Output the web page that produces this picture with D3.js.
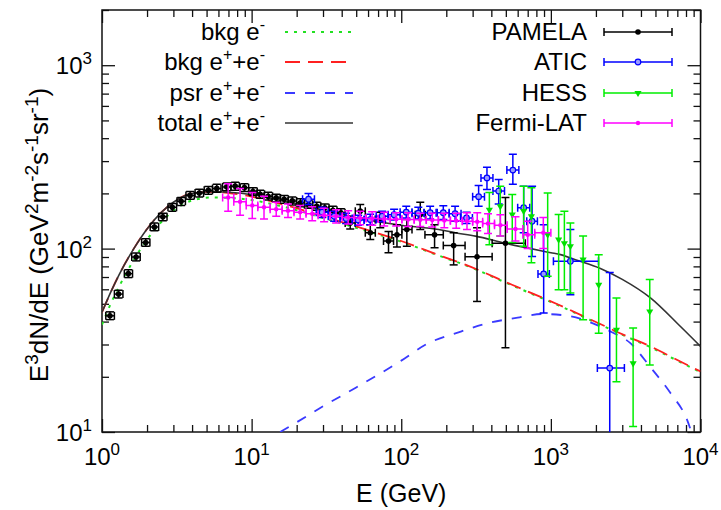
<!DOCTYPE html>
<html><head><meta charset="utf-8">
<script src="https://cdn.jsdelivr.net/npm/d3@7"></script>
<style>body{margin:0;background:#fff} text{font-family:"Liberation Sans",Arial,sans-serif;fill:#000}</style>
</head><body><svg id="c" width="721" height="510"></svg>
<script>
// ---------- tick definitions ----------
const xMajorTicks = [1, 10, 100, 1000, 10000];
const xMajorExp = ["0", "1", "2", "3", "4"];
const yMajorTicks = [10, 100, 1000];
const yMajorExp = ["1", "2", "3"];

// ---------- model curves ----------
const bkgEmE = [1, 1.15, 1.3, 1.62, 2, 2.5, 3, 3.6, 4.5, 5.5, 7, 10, 15, 20, 30, 53, 100, 200, 255, 550, 1127, 2000, 3234, 4630, 7000, 10000];
const bkgEmV = [38.5, 50.5, 62, 86, 112, 140, 161, 177, 187, 190, 189, 184, 172, 162, 147, 128, 109, 88.5, 82.5, 63, 49, 39.5, 33, 29, 24.5, 21.2];
const bkgEpmE = [1, 1.15, 1.3, 1.62, 2, 2.5, 3, 3.6, 4.5, 5.5, 7, 10, 15, 20, 30, 53, 100, 200, 255, 550, 1127, 2000, 3234, 4630, 7000, 10000];
const bkgEpmV = [45, 58.4, 72, 99, 128, 158, 179, 195, 203, 204, 201, 192, 177, 166, 150, 130, 110, 89, 83, 63.5, 49.4, 39.8, 33.2, 29.3, 24.7, 21.4];
const psrE = [15.5, 20, 30, 50, 100, 145, 250, 394, 600, 870, 1300, 2000, 2500, 3400, 4600, 6300, 8150, 8700];
const psrV = [10, 11.3, 13.8, 17.5, 24.5, 29.9, 35.3, 39.5, 42, 44, 43, 38.5, 35.3, 30.5, 22.7, 16.3, 11.6, 10];
const totE = [1, 1.15, 1.3, 1.62, 2, 2.5, 3, 3.6, 4.5, 5.5, 7, 10, 15, 20, 30, 53, 100, 178, 230, 313, 496, 1000, 1160, 1459, 2143, 3000, 4630, 7350, 10000];
const totV = [45, 58.4, 72, 99, 128, 158, 179, 195, 203, 205, 203, 197, 184, 175, 162, 146, 134, 127, 122, 117, 107, 95, 92.7, 87, 78, 68, 53.9, 37.6, 29.3];

// ---------- PAMELA ----------
const pamE   = [1.13,1.29,1.50,1.69,1.96,2.24,2.55,2.95,3.38,3.88,4.47,5.14,5.85,6.82,7.76,8.95,
                10.2,11.4,12.9,14.6,16.5,18.7,21.2,24.0,27.2,30.8,34.9,39.5,
                45.6,53.2,62.1,72.4,82.2,93.6,109,134,167,224,321,497];
const pamV   = [43,56.5,73,90,108,131,149,168,181,195,201,208,213,217,219,215,
                205,198,193,189,186,182,178,174,170,167,162,157,
                138,160,122,144,110,119,127,153,119,104,90.3,107];
const pamElo = [1.06,1.21,1.41,1.58,1.84,2.10,2.39,2.76,3.17,3.64,4.19,4.82,5.48,6.39,7.27,8.39,
                9.56,10.7,12.1,13.7,15.5,17.5,19.9,22.5,25.5,28.9,32.7,37.0,
                42.2,49.3,57.5,67.0,76.1,86.7,101,124,144,191,267,405];
const pamEhi = [1.21,1.38,1.60,1.80,2.09,2.39,2.72,3.15,3.61,4.14,4.77,5.48,6.24,7.28,8.28,9.55,
                10.9,12.2,13.8,15.6,17.6,20.0,22.6,25.6,29.0,32.9,37.2,42.1,
                49.2,57.5,67.1,78.2,88.8,101,118,145,191,267,405,675];
const pamVlo = [41,53.8,69.5,85.7,103,125,142,160,172,186,191,198,203,207,208,205,
                195,188,184,180,177,173,169,166,162,159,154,149,
                128,147,112,130,95,102,103,127,101,81.5,51.5,28.8];
const pamVhi = [45.2,59.3,76.7,94.5,113,138,156,176,190,205,211,218,224,228,230,226,
                215,208,203,198,195,191,187,183,179,175,170,165,
                150,174,135,158,124,135,144,179,135,122,130,190];

// ---------- ATIC ----------
const aticE   = [24.0,29.6,35.6,42.8,51.5,62,74.5,89.6,108,130,156,191,229,273,329,374,448,557,658,749,895,1350,2474];
const aticV   = [186,158,150,146,143,144,150,153,158,156,157,157,155,147,192,243,206,268,167,141,72.8,85.3,22.3];
const aticVlo = [174,148,141,137,134,135,140,143,147,145,145,144,141,137,170,210,175,224,122,90.5,44.6,56.1,5];
const aticVhi = [200,168,160,156,152,154,160,164,170,168,170,171,170,158,221,278,238,327,219,219,135,127,74];
const aticElo = [21.9,27.0,32.5,39.0,47.0,56.5,68,81.7,98.3,118,142,174,209,249,300,341,410,508,600,690,820,1040,2045];
const aticEhi = [26.3,32.5,39.0,47.0,56.5,68,81.7,98.3,118,142,171,209,251,299,360,410,490,611,722,813,977,2080,3100];

// ---------- HESS ----------
const hessE   = [388,459,552,658,741,952,1127,1231,1350,1642,2088,2744,3545,4580];
const hessV   = [163,170,153.5,160,150,119,112,107,103,87.1,63.5,36.1,23.7,45.4];
const hessVlo = [105,117,108,103,83.6,70.6,59.7,59.7,57.3,40.9,34.6,18.8,10.7,23.2];
const hessVhi = [202,219,197,219,215,201,153.5,160,138,117,92.7,53.8,36.9,67.8];

// ---------- Fermi-LAT ----------
const fermiE   = [6.97,8.37,10.1,12.1,14.6,17.5,21.1,25.4,30.5,36.7,44.2,53.1,63.9,76.9,92.5,111,134,161,194,233,275,322,380,460,580,700,890];
const fermiV   = [190,180,172,168,164,161,158,155,152,150,148,147,146,145,144.5,144,143.5,143,142.5,142,141,140,137,134,128,119,122];
const fermiVlo = [160,152,146,145,150,148,145,142,140,138,136,135,134,133,133,132,132,131,130,129,127,125,121,117,110,100,100];
const fermiVhi = [226,213,202,193,179,175,172,169,166,163,161,160,159,158,157,157,156,156,156,156,157,157,155,153,149,141,148];
const fermiElo = [6.4,7.6,9.2,11.0,13.3,16.0,19.2,23.1,27.8,33.5,40.3,48.5,58.3,70.2,84.4,101,122,147,177,213,256,300,350,420,510,650,780];
const fermiEhi = [7.6,9.2,11.0,13.3,16.0,19.2,23.1,27.8,33.5,40.3,48.5,58.3,70.2,84.4,101,122,147,177,213,256,300,350,420,510,650,780,1000];

// ---------- legend labels ----------
const legendCurveLabels = [
  [["bkg e",0],["-",1]],
  [["bkg e",0],["+",1],["+e",0],["-",1]],
  [["psr e",0],["+",1],["+e",0],["-",1]],
  [["total e",0],["+",1],["+e",0],["-",1]]
];
const legendDataLabels = ["PAMELA", "ATIC", "HESS", "Fermi-LAT"];

// ================= drawing =================
const M = {l:102, r:700.5, t:10, b:432};
const svg = d3.select("#c");
const x = d3.scaleLog().domain([1, 1e4]).range([M.l, M.r]);
const y = d3.scaleLog().domain([10, 2000]).range([M.b, M.t]);

svg.append("defs").append("clipPath").attr("id","clip")
  .append("rect").attr("x",M.l).attr("y",M.t).attr("width",M.r-M.l).attr("height",M.b-M.t);

function rich(t, parts, supSize, shift){
  parts.forEach(([s,sup],i)=>{
    const prev = i>0 ? parts[i-1][1] : 0;
    let d = 0;
    if (sup && !prev) d = -shift; else if (!sup && prev) d = shift;
    const ts = t.append("tspan").attr("dy", d).text(s);
    if (sup) ts.attr("font-size", supSize);
  });
}

const isPow = v => Math.abs(Math.log10(v) - Math.round(Math.log10(v))) < 1e-9;
const xMinor = x.ticks().filter(v => !isPow(v));
const yMinor = y.ticks().filter(v => !isPow(v));

const axStroke = "#111";
function styleAxis(g){ g.select(".domain").remove(); g.selectAll("line").attr("stroke", axStroke).attr("stroke-width",1.3); g.selectAll("text").remove(); }
svg.append("g").attr("transform",`translate(0,${M.b})`).call(d3.axisBottom(x).tickValues(xMajorTicks).tickSize(-13)).call(styleAxis);
svg.append("g").attr("transform",`translate(0,${M.b})`).call(d3.axisBottom(x).tickValues(xMinor).tickSize(-7)).call(styleAxis);
svg.append("g").attr("transform",`translate(0,${M.t})`).call(d3.axisTop(x).tickValues(xMajorTicks).tickSize(-13)).call(styleAxis);
svg.append("g").attr("transform",`translate(0,${M.t})`).call(d3.axisTop(x).tickValues(xMinor).tickSize(-7)).call(styleAxis);
svg.append("g").attr("transform",`translate(${M.l},0)`).call(d3.axisLeft(y).tickValues(yMajorTicks).tickSize(-13)).call(styleAxis);
svg.append("g").attr("transform",`translate(${M.l},0)`).call(d3.axisLeft(y).tickValues(yMinor).tickSize(-7)).call(styleAxis);
svg.append("g").attr("transform",`translate(${M.r},0)`).call(d3.axisRight(y).tickValues(yMajorTicks).tickSize(-13)).call(styleAxis);
svg.append("g").attr("transform",`translate(${M.r},0)`).call(d3.axisRight(y).tickValues(yMinor).tickSize(-7)).call(styleAxis);

// tick labels
xMajorTicks.forEach((v,i)=>{
  const t = svg.append("text").attr("x", x(v)).attr("y", M.b+33).attr("text-anchor","middle").attr("font-size",24);
  rich(t, [["10",0],[xMajorExp[i],1]], 17, 10);
});
yMajorTicks.forEach((v,i)=>{
  const t = svg.append("text").attr("x", M.l-10).attr("y", y(v)+9).attr("text-anchor","end").attr("font-size",24);
  rich(t, [["10",0],[yMajorExp[i],1]], 17, 10);
});

// axis titles
svg.append("text").attr("x", (M.l+M.r)/2).attr("y", 502).attr("text-anchor","middle").attr("font-size",25).text("E (GeV)");
{
  const t = svg.append("text").attr("transform",`translate(48,${235}) rotate(-90)`).attr("text-anchor","middle").attr("font-size",26);
  rich(t, [["E",0],["3",1],["dN/dE (GeV",0],["2",1],["m",0],["-2",1],["s",0],["-1",1],["sr",0],["-1",1],[")",0]], 19, 10);
}

// frame
svg.append("rect").attr("x",M.l).attr("y",M.t).attr("width",M.r-M.l).attr("height",M.b-M.t)
  .attr("fill","none").attr("stroke",axStroke).attr("stroke-width",1.5);

const plot = svg.append("g").attr("clip-path","url(#clip)");

// curves
const curveStyles = [
  {E:bkgEmE, V:bkgEmV, color:"#22e022", dash:"3,6", w:2},
  {E:bkgEpmE, V:bkgEpmV, color:"#ff2020", dash:"15,8", w:1.8},
  {E:psrE, V:psrV, color:"#3a3aff", dash:"10,10", w:1.8},
  {E:totE, V:totV, color:"#333", dash:null, w:1.6}
];
const line = d3.line().x(d=>x(d[0])).y(d=>y(d[1])).curve(d3.curveMonotoneX);
curveStyles.forEach(c=>{
  plot.append("path").attr("d", line(c.E.map((e,i)=>[e,c.V[i]])))
    .attr("fill","none").attr("stroke",c.color).attr("stroke-width",c.w)
    .attr("stroke-dasharray",c.dash);
});

// error bars
function errbars(E,V,Vlo,Vhi,Elo,Ehi,color,marker){
  const g = plot.append("g").attr("stroke",color).attr("stroke-width",1.5).attr("fill","none");
  const cap = 4;
  E.forEach((e,i)=>{
    const px = x(e), py = y(V[i]);
    const y1 = y(Vlo[i]), y2 = y(Vhi[i]);
    g.append("line").attr("x1",px).attr("x2",px).attr("y1",y1).attr("y2",y2);
    g.append("line").attr("x1",px-cap).attr("x2",px+cap).attr("y1",y1).attr("y2",y1);
    g.append("line").attr("x1",px-cap).attr("x2",px+cap).attr("y1",y2).attr("y2",y2);
    if (Elo && Ehi){
      const x1 = x(Elo[i]), x2 = x(Ehi[i]);
      g.append("line").attr("x1",x1).attr("x2",x2).attr("y1",py).attr("y2",py);
      g.append("line").attr("x1",x1).attr("x2",x1).attr("y1",py-cap).attr("y2",py+cap);
      g.append("line").attr("x1",x2).attr("x2",x2).attr("y1",py-cap).attr("y2",py+cap);
    }
    marker(g, px, py);
  });
}
const mPam = (g,px,py)=>g.append("circle").attr("cx",px).attr("cy",py).attr("r",2.8).attr("fill","#000").attr("stroke","none");
const mAtic = (g,px,py)=>g.append("circle").attr("cx",px).attr("cy",py).attr("r",2.8).attr("fill","#9a9aff").attr("stroke","#0000ff").attr("stroke-width",1.2);
const mHess = (g,px,py)=>g.append("path").attr("transform",`translate(${px},${py}) rotate(180)`).attr("d",d3.symbol().type(d3.symbolTriangle).size(22)()).attr("fill","#00e000").attr("stroke","none");
const mFermi = (g,px,py)=>g.append("circle").attr("cx",px).attr("cy",py).attr("r",2.2).attr("fill","#ff00ff").attr("stroke","none");

errbars(pamE,pamV,pamVlo,pamVhi,pamElo,pamEhi,"#000",mPam);
errbars(aticE,aticV,aticVlo,aticVhi,aticElo,aticEhi,"#0000ff",mAtic);
errbars(hessE,hessV,hessVlo,hessVhi,null,null,"#00ee00",mHess);
errbars(fermiE,fermiV,fermiVlo,fermiVhi,fermiElo,fermiEhi,"#ff00ff",mFermi);

// legend
const rows = [32, 62, 93, 123];
legendCurveLabels.forEach((lab,i)=>{
  const t = svg.append("text").attr("x",265).attr("y",rows[i]+8).attr("text-anchor","end").attr("font-size",24);
  rich(t, lab, 16, 10);
  const c = curveStyles[i];
  svg.append("line").attr("x1",285).attr("x2",353).attr("y1",rows[i]).attr("y2",rows[i])
    .attr("stroke",c.color).attr("stroke-width",c.w).attr("stroke-dasharray",c.dash);
});
const dataColors = ["#000","#0000ff","#00ee00","#ff00ff"];
const dataMarkers = [mPam, mAtic, mHess, mFermi];
legendDataLabels.forEach((lab,i)=>{
  svg.append("text").attr("x",587).attr("y",rows[i]+8).attr("text-anchor","end").attr("font-size",24).text(lab);
  const g = svg.append("g").attr("stroke",dataColors[i]).attr("stroke-width",1.5);
  const yy = rows[i];
  g.append("line").attr("x1",604).attr("x2",672).attr("y1",yy).attr("y2",yy);
  g.append("line").attr("x1",604).attr("x2",604).attr("y1",yy-4).attr("y2",yy+4);
  g.append("line").attr("x1",672).attr("x2",672).attr("y1",yy-4).attr("y2",yy+4);
  dataMarkers[i](g,638,yy);
});
</script></body></html>
